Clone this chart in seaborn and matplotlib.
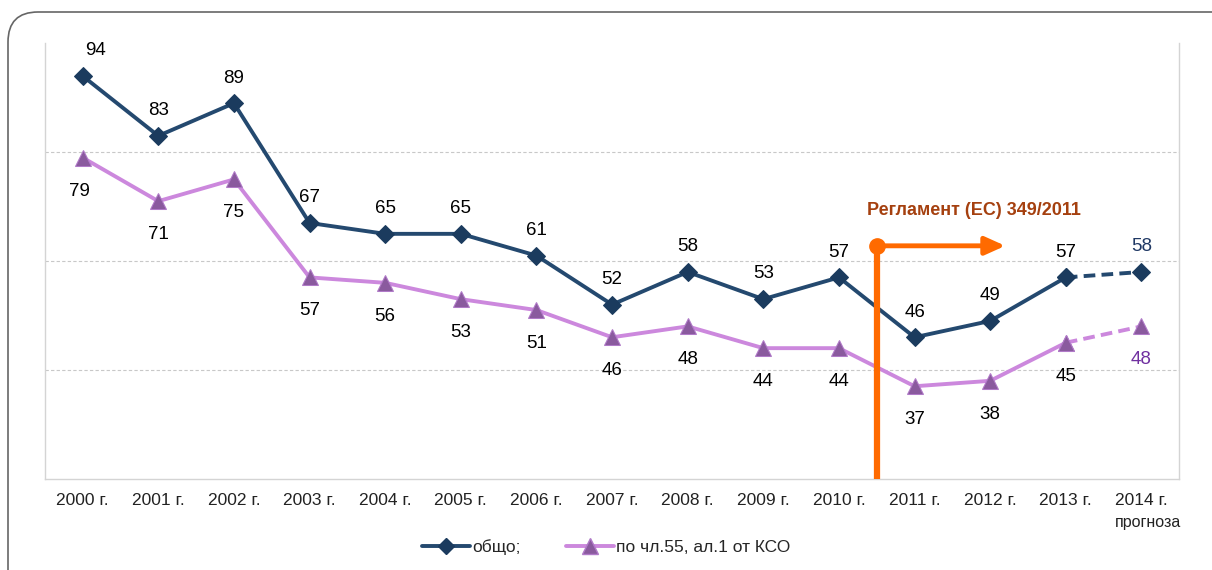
import pandas as pd
import matplotlib.pyplot as plt
import seaborn as sns
from matplotlib.patches import FancyBboxPatch
from matplotlib.lines import Line2D
import matplotlib.transforms as mtransforms

sns.set_theme(style="white")
plt.rcParams['font.family'] = ['Liberation Sans', 'DejaVu Sans']

# Data
years = ['2000 г.', '2001 г.', '2002 г.', '2003 г.', '2004 г.', '2005 г.', '2006 г.',
         '2007 г.', '2008 г.', '2009 г.', '2010 г.', '2011 г.', '2012 г.', '2013 г.', '2014 г.']
total = [94, 83, 89, 67, 65, 65, 61, 52, 58, 53, 57, 46, 49, 57, 58]
art55 = [79, 71, 75, 57, 56, 53, 51, 46, 48, 44, 44, 37, 38, 45, 48]
series_names = ['общо;', 'по чл.55, ал.1 от КСО']
forecast_note = 'прогноза'
regulation = 'Регламент (ЕС) 349/2011'

BLUE = '#24496F'
BLUE_MK = '#1B3B5E'
PINK = '#CC88DD'
PINK_MK = '#8A5A9E'
ORANGE = '#FF6A00'

df = pd.DataFrame({'year': years, 'total': total, 'art55': art55})
actual = df.iloc[:-1]
forecast = df.iloc[-2:]

fig = plt.figure(figsize=(12.12, 5.70), dpi=100)
ax = fig.add_axes([0.037, 0.16, 0.936, 0.764])

# rounded frame around the chart (pixel coordinates)
frame = FancyBboxPatch((8, -60), 1240, 618, transform=mtransforms.IdentityTransform(),
                       boxstyle="round,pad=0,rounding_size=30",
                       fill=False, edgecolor='#666666', linewidth=1.2, zorder=0)
fig.patches.append(frame)

sns.lineplot(data=actual, x='year', y='total', ax=ax, color=BLUE, linewidth=2.8,
             marker='D', markersize=9, markerfacecolor=BLUE_MK, markeredgecolor=BLUE_MK,
             zorder=4)
sns.lineplot(data=forecast, x='year', y='total', ax=ax, color=BLUE, linewidth=2.8,
             linestyle=(0, (3, 1.6)), marker='D', markersize=9,
             markerfacecolor=BLUE_MK, markeredgecolor=BLUE_MK, zorder=4)
sns.lineplot(data=actual, x='year', y='art55', ax=ax, color=PINK, linewidth=2.8,
             marker='^', markersize=12, markerfacecolor=PINK_MK, markeredgecolor='#B07AC8',
             zorder=4)
sns.lineplot(data=forecast, x='year', y='art55', ax=ax, color=PINK, linewidth=2.8,
             linestyle=(0, (3, 1.6)), marker='^', markersize=12,
             markerfacecolor=PINK_MK, markeredgecolor='#B07AC8', zorder=4)

# data labels
for i, (t, p) in enumerate(zip(total, art55)):
    last = i == len(years) - 1
    dx = 9 if i == 0 else 0
    ax.annotate(str(t), (i, t), xytext=(dx, 12), textcoords='offset points',
                ha='center', va='bottom', fontsize=13.5,
                color='#1F3864' if last else 'black')
    ax.annotate(str(p), (i, p), xytext=(-2 if i == 0 else 0, -18), textcoords='offset points',
                ha='center', va='top', fontsize=13.5,
                color='#7030A0' if last else 'black')

# regulation marker
ax.plot([10.5, 10.5], [20, 62.8], color=ORANGE, linewidth=4.5, zorder=5,
        solid_capstyle='butt')
ax.annotate('', xy=(12.2, 62.8), xytext=(10.5, 62.8),
            arrowprops=dict(arrowstyle='-|>,head_length=1.0,head_width=0.45',
                            color=ORANGE, lw=3.5, shrinkA=0, shrinkB=0), zorder=5)
ax.plot([10.5], [62.8], 'o', color=ORANGE, markersize=11, zorder=6)
ax.text(11.78, 69.2, regulation, ha='center', va='center', fontsize=13,
        fontweight='bold', color='#A5400F')

# axes styling
ax.set_ylim(20, 100)
ax.set_xlim(-0.5, len(years) - 0.5)
ax.set_yticks([40, 60, 80])
ax.set_yticklabels([])
ax.tick_params(axis='y', length=0)
ax.yaxis.grid(True, color='#C8C8C8', linestyle=(0, (3, 2)), linewidth=0.8)
ax.xaxis.grid(False)
ax.set_xlabel('')
ax.set_ylabel('')
for side in ['top', 'right', 'left', 'bottom']:
    ax.spines[side].set_visible(True)
    ax.spines[side].set_color('#D4D4D4')
    ax.spines[side].set_linewidth(1.0)
ax.spines['top'].set_visible(False)

ax.set_xticks(range(len(years)))
ax.set_xticklabels(years, fontsize=12.5, color='#222222')
ax.set_xticks([i - 0.5 for i in range(len(years) + 1)], minor=True)
ax.tick_params(axis='x', which='major', direction='in', length=4, color='#D4D4D4', pad=10)
ax.tick_params(axis='x', which='minor', direction='inout', length=9, color='#D4D4D4')
trans = mtransforms.blended_transform_factory(ax.transData, ax.transAxes)
ax.text(len(years) - 1 + 0.08, -0.083, forecast_note, transform=trans, ha='center', va='top',
        fontsize=11.5, color='#222222')

# legend
handles = [
    Line2D([], [], color=BLUE, linewidth=2.8, marker='D', markersize=8,
           markerfacecolor=BLUE_MK, markeredgecolor=BLUE_MK),
    Line2D([], [], color=PINK, linewidth=2.8, marker='^', markersize=11,
           markerfacecolor=PINK_MK, markeredgecolor='#B07AC8'),
]
fig.legend(handles, series_names, loc='center', bbox_to_anchor=(0.5, 0.04),
           ncol=2, frameon=False, fontsize=12.5, handlelength=2.8, handletextpad=0.1,
           columnspacing=2.6)

fig.savefig('out.png', dpi=100)
